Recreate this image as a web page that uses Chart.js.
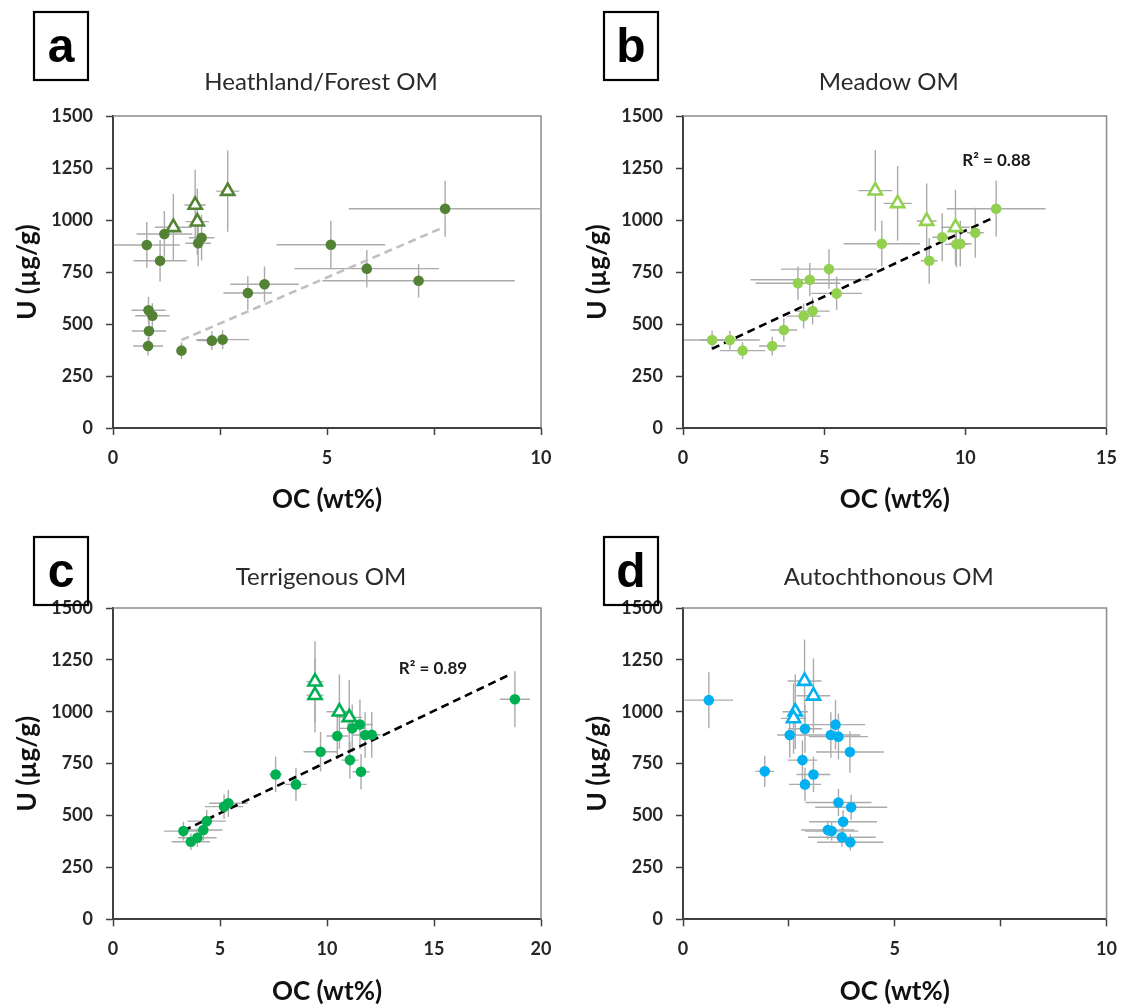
<!DOCTYPE html>
<html><head><meta charset="utf-8">
<script src="https://cdn.jsdelivr.net/npm/chart.js@4.4.1/dist/chart.umd.min.js"></script>
<style>
html,body{margin:0;padding:0;background:#fff;width:1129px;height:1007px;overflow:hidden;}
canvas{position:absolute;}
</style></head><body>
<canvas id="pa" width="565" height="540" style="left:0;top:0"></canvas>
<canvas id="pb" width="564" height="540" style="left:565px;top:0"></canvas>
<canvas id="pc" width="565" height="520" style="left:0;top:490px"></canvas>
<canvas id="pd" width="564" height="520" style="left:565px;top:490px"></canvas>
<script>
// ---------------- DATA ----------------
const yTicks = [0, 250, 500, 750, 1000, 1250, 1500];
const titles = ['Heathland/Forest OM', 'Meadow OM', 'Terrigenous OM', 'Autochthonous OM'];
const letters = ['a', 'b', 'c', 'd'];
const xMaxes = [10, 15, 20, 10];
const r2Labels = ['', 'R² = 0.88', 'R² = 0.89', ''];

// Panel a – Heathland/Forest OM
const aCircOC  = [0.79, 1.10, 1.20, 1.99, 2.07, 0.83, 0.92, 0.84, 0.82, 1.60, 2.31, 2.56, 3.15, 3.54, 5.09, 5.93, 7.14, 7.76];
const aCircU   = [880, 804, 933, 888, 915, 566, 540, 466, 394, 372, 420, 425, 649, 691, 881, 766, 708, 1054];
const aCircOCe = [0.77, 0.62, 0.65, 0.30, 0.30, 0.40, 0.40, 0.40, 0.35, 0.10, 0.35, 0.62, 0.57, 0.80, 1.27, 1.69, 2.25, 2.25];
const aCircUe  = [110, 100, 110, 110, 110, 65, 60, 55, 45, 40, 45, 45, 80, 85, 115, 90, 80, 135];
const aTriOC   = [1.41, 1.92, 1.97, 2.68];
const aTriU    = [965, 1072, 992, 1139];
const aTriOCe  = [0.43, 0.25, 0.27, 0.27];
const aTriUe   = [160, 170, 160, 195];
const aFitOC   = [1.60, 7.76];
const aFitU    = [423, 968];

// Panel b – Meadow OM
const bCircOC  = [1.03, 1.66, 2.11, 3.16, 3.57, 4.07, 4.49, 5.17, 4.27, 4.59, 5.44, 7.04, 8.72, 9.18, 9.68, 9.82, 10.35, 11.09];
const bCircU   = [423, 423, 372, 394, 471, 696, 713, 764, 538, 562, 647, 886, 804, 917, 883, 886, 939, 1054];
const bCircOCe = [1.00, 1.06, 0.80, 0.47, 0.47, 1.50, 2.10, 1.70, 0.60, 0.60, 0.90, 1.35, 0.30, 0.35, 0.40, 0.40, 0.30, 1.75];
const bCircUe  = [45, 45, 40, 45, 55, 80, 80, 95, 60, 65, 80, 110, 110, 115, 110, 110, 120, 135];
const bTriOC   = [6.81, 7.60, 8.63, 9.65];
const bTriU    = [1141, 1080, 995, 965];
const bTriOCe  = [0.60, 0.50, 0.35, 0.50];
const bTriUe   = [195, 180, 180, 180];
const bFitOC   = [1.03, 10.94];
const bFitU    = [381, 1008];

// Panel c – Terrigenous OM
const cCircOC  = [3.29, 3.64, 3.94, 4.22, 4.38, 5.19, 5.39, 7.60, 8.55, 9.70, 10.48, 11.07, 11.18, 11.54, 11.59, 11.78, 12.09, 18.78];
const cCircU   = [425, 374, 393, 430, 473, 543, 559, 698, 650, 807, 883, 767, 920, 939, 711, 888, 889, 1060];
const cCircOCe = [0.90, 0.90, 0.90, 0.90, 0.90, 0.90, 0.90, 0.30, 0.50, 0.80, 0.50, 0.40, 0.60, 0.60, 0.40, 0.60, 0.40, 0.70];
const cCircUe  = [45, 40, 45, 50, 55, 60, 65, 85, 80, 95, 110, 90, 115, 120, 85, 110, 110, 135];
const cTriOC   = [9.44, 9.44, 10.58, 11.04];
const cTriU    = [1145, 1080, 1000, 973];
const cTriOCe  = [0.40, 0.40, 0.60, 0.60];
const cTriUe   = [195, 180, 180, 180];
const cFitOC   = [3.29, 18.6];
const cFitU    = [427, 1182];

// Panel d – Autochthonous OM
const dCircOC  = [0.61, 1.93, 2.52, 2.88, 2.82, 3.08, 2.88, 3.60, 3.49, 3.67, 3.94, 3.67, 3.97, 3.78, 3.42, 3.51, 3.75, 3.95];
const dCircU   = [1056, 713, 888, 918, 767, 698, 650, 938, 888, 880, 806, 563, 540, 470, 430, 425, 395, 371];
const dCircOCe = [0.57, 0.22, 0.30, 0.40, 0.35, 0.40, 0.38, 0.70, 0.70, 0.70, 0.80, 0.78, 0.85, 0.80, 0.63, 0.63, 0.80, 0.78];
const dCircUe  = [135, 75, 110, 115, 95, 85, 80, 120, 110, 110, 100, 65, 60, 55, 45, 45, 45, 40];
const dTriOC   = [2.87, 3.08, 2.65, 2.61];
const dTriU    = [1148, 1077, 1000, 968];
const dTriOCe  = [0.40, 0.40, 0.30, 0.30];
const dTriUe   = [200, 180, 180, 170];

// ---------------- DRAWING ----------------
const FONT = 'Lato, "Open Sans", "Liberation Sans", sans-serif';
const Y_W = 100.6, X_H = 87.6;

const decor = {
  id: 'decor',
  beforeDatasetsDraw(chart, args, o) {
    const {ctx, chartArea: ca, scales: {x, y}} = chart;
    ctx.save();
    ctx.strokeStyle = '#8a8a8a'; ctx.lineWidth = 1.5;
    ctx.beginPath();
    ctx.moveTo(ca.left, ca.top); ctx.lineTo(ca.right, ca.top); ctx.lineTo(ca.right, ca.bottom);
    ctx.stroke();
    ctx.beginPath(); ctx.rect(ca.left, ca.top, ca.right - ca.left, ca.bottom - ca.top); ctx.clip();
    ctx.strokeStyle = '#ababab'; ctx.lineWidth = 1.4;
    o.errors.forEach(s => s.oc.forEach((v, i) => {
      const px = x.getPixelForValue(v), py = y.getPixelForValue(s.u[i]);
      ctx.beginPath();
      ctx.moveTo(x.getPixelForValue(v - s.oce[i]), py); ctx.lineTo(x.getPixelForValue(v + s.oce[i]), py);
      ctx.moveTo(px, y.getPixelForValue(s.u[i] - s.ue[i])); ctx.lineTo(px, y.getPixelForValue(s.u[i] + s.ue[i]));
      ctx.stroke();
    }));
    ctx.restore();
  },
  afterDraw(chart, args, o) {
    const {ctx, chartArea: ca, scales: {x, y}} = chart;
    ctx.save();
    const bx = ca.left - 79, by = ca.top - o.boxUp;
    ctx.strokeStyle = '#000'; ctx.lineWidth = 2.2;
    ctx.strokeRect(bx, by, 54, 68);
    ctx.fillStyle = '#000'; ctx.font = 'bold 48px "Liberation Sans", Arial, sans-serif';
    ctx.textAlign = 'center'; ctx.textBaseline = 'alphabetic';
    ctx.fillText(o.letter, bx + 27, by + 50);
    ctx.fillStyle = '#2a2a2a'; ctx.font = '24px ' + FONT;
    ctx.textBaseline = 'middle';
    ctx.fillText(o.title, (ca.left + ca.right) / 2 - 6, ca.top - o.titleUp);
    if (o.r2) {
      ctx.font = 'bold 17px ' + FONT; ctx.fillStyle = '#1a1a1a';
      ctx.fillText(o.r2, x.getPixelForValue(o.r2At[0]), y.getPixelForValue(o.r2At[1]));
    }
    ctx.restore();
  }
};

function pts(xs, ys) { return xs.map((v, i) => ({x: v, y: ys[i]})); }

function makePanel(id, idx, plot, color, fitColor, circ, tri, fit, r2At, boxUp, titleUp) {
  const cv = document.getElementById(id);
  const W = cv.width, H = cv.height;
  const datasets = [];
  if (fit) datasets.push({type: 'line', data: pts(fit[0], fit[1]), showLine: true, pointRadius: 0,
    borderColor: fitColor, borderWidth: 2.6, borderDash: [8, 5], fill: false, order: 3});
  datasets.push({data: pts(circ[0], circ[1]), pointStyle: 'circle', pointRadius: 5.3,
    backgroundColor: color, borderColor: color, borderWidth: 0, order: 1});
  datasets.push({data: pts(tri[0], tri[1]), pointStyle: 'triangle', pointRadius: 7.6,
    backgroundColor: '#ffffff', borderColor: color, borderWidth: 2.6, order: 0});
  const xMax = xMaxes[idx];
  const xStep = xMax === 10 ? 2.5 : 5;
  new Chart(cv, {
    type: 'scatter',
    data: {datasets},
    options: {
      responsive: false, animation: false, events: [],
      layout: {padding: {left: plot.left - Y_W, right: W - plot.right, top: plot.top, bottom: H - plot.bottom - X_H}},
      plugins: {legend: {display: false}, tooltip: {enabled: false},
        decor: {letter: letters[idx], title: titles[idx], r2: r2Labels[idx], r2At, boxUp, titleUp,
          errors: [{oc: circ[0], u: circ[1], oce: circ[2], ue: circ[3]}, {oc: tri[0], u: tri[1], oce: tri[2], ue: tri[3]}]}},
      scales: {
        x: {type: 'linear', min: 0, max: xMax,
          afterFit: s => { s.height = X_H; },
          ticks: {stepSize: xStep, autoSkip: false, padding: 12, color: '#262626',
            font: {family: FONT, size: 18, weight: 'bold'},
            callback: v => (v % 5 === 0 ? String(v) : '')},
          grid: {drawOnChartArea: false, drawTicks: true, tickLength: 7, color: '#404040', tickWidth: 1.5},
          border: {display: true, color: '#404040', width: 2},
          title: {display: true, text: 'OC (wt%)', color: '#111', padding: 0,
            font: {family: FONT, size: 26, weight: 'bold'}}},
        y: {type: 'linear', min: yTicks[0], max: yTicks[yTicks.length - 1],
          afterFit: s => { s.width = Y_W; },
          afterBuildTicks: s => { s.ticks = yTicks.map(v => ({value: v})); },
          ticks: {padding: 13, color: '#262626', font: {family: FONT, size: 18, weight: 'bold'},
            callback: v => String(v)},
          grid: {drawOnChartArea: false, drawTicks: true, tickLength: 7, color: '#404040', tickWidth: 1.5},
          border: {display: true, color: '#404040', width: 2},
          title: {display: true, text: 'U (µg/g)', color: '#111', padding: 0,
            font: {family: FONT, size: 26, weight: 'bold'}}}
      }
    },
    plugins: [decor]
  });
}

makePanel('pa', 0, {left: 113, right: 541, top: 116, bottom: 428}, '#548235', '#c0c0c0',
  [aCircOC, aCircU, aCircOCe, aCircUe], [aTriOC, aTriU, aTriOCe, aTriUe], [aFitOC, aFitU], null, 104, 34);
makePanel('pb', 1, {left: 118, right: 545.7, top: 116, bottom: 428}, '#92d050', '#000000',
  [bCircOC, bCircU, bCircOCe, bCircUe], [bTriOC, bTriU, bTriOCe, bTriUe], [bFitOC, bFitU], [11.1, 1288], 104, 34);
makePanel('pc', 2, {left: 113, right: 541, top: 118, bottom: 429.3}, '#00b050', '#000000',
  [cCircOC, cCircU, cCircOCe, cCircUe], [cTriOC, cTriU, cTriOCe, cTriUe], [cFitOC, cFitU], [14.95, 1210], 71, 31);
makePanel('pd', 3, {left: 118, right: 545.7, top: 118, bottom: 429.3}, '#00b0f0', '#000000',
  [dCircOC, dCircU, dCircOCe, dCircUe], [dTriOC, dTriU, dTriOCe, dTriUe], null, null, 71, 31);
</script>
</body></html>
